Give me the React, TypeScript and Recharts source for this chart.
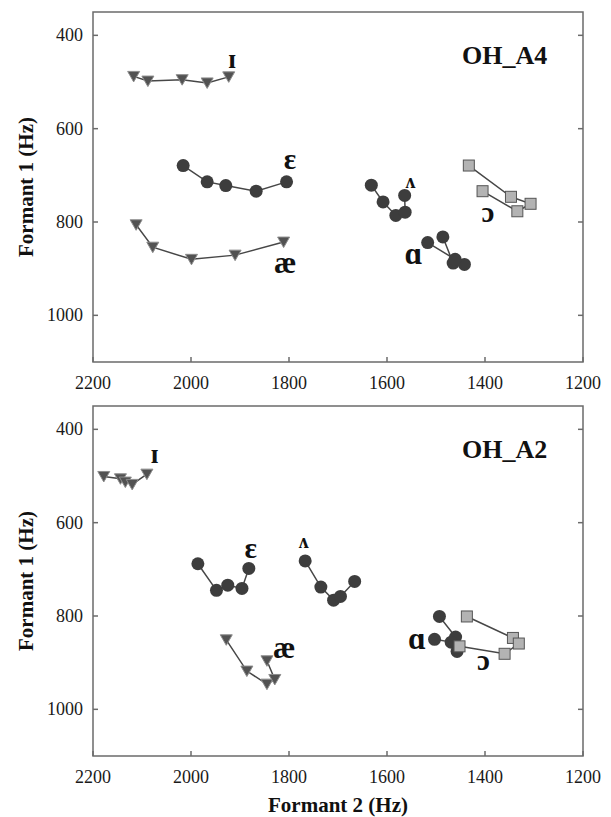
import React from 'react';
import { ScatterChart, Scatter, XAxis, YAxis, ReferenceArea } from 'recharts';

// [F2, F1] in Hz, in time order
const a4I = [[2117, 488], [2088, 498], [2018, 495], [1967, 502], [1923, 489]];
const a4E = [[2016, 679], [1967, 714], [1929, 722], [1867, 734], [1805, 714]];
const a4AE = [[2112, 806], [2078, 854], [1999, 880], [1910, 871], [1811, 843]];
const a4V = [[1632, 721], [1608, 757], [1582, 786], [1563, 779], [1564, 743]];
const a4A = [[1486, 832], [1465, 888], [1442, 891], [1461, 880], [1517, 844]];
const a4O = [[1433, 679], [1347, 746], [1307, 761], [1334, 777], [1405, 734]];

const a2I = [[2178, 501], [2144, 506], [2134, 513], [2120, 518], [2090, 496]];
const a2E = [[1986, 688], [1948, 745], [1925, 734], [1896, 741], [1882, 698]];
const a2AE = [[1928, 851], [1886, 918], [1845, 946], [1829, 936], [1845, 896]];
const a2V = [[1767, 682], [1735, 738], [1709, 766], [1695, 758], [1666, 726]];
const a2A = [[1493, 801], [1460, 845], [1457, 876], [1469, 856], [1503, 850]];
const a2O = [[1437, 801], [1343, 847], [1331, 859], [1360, 881], [1452, 865]];

const vowels = ['ɪ', 'ɛ', 'æ', 'ʌ', 'ɑ', 'ɔ'];
const a4LabelAt = [[1916, 457], [1798, 673], [1808, 895], [1552, 718], [1546, 875], [1394, 786]];
const a2LabelAt = [[2074, 458], [1878, 661], [1810, 874], [1770, 645], [1539, 856], [1403, 902]];

const titles = ['OH_A4', 'OH_A2'];
const titleAt = [1360, 444];

const xTicks = [2200, 2000, 1800, 1600, 1400, 1200];
const yTicks = [400, 600, 800, 1000];

const SERIF = "'Liberation Serif', 'Times New Roman', Times, 'DejaVu Serif', serif";
const AXIS = '#6b6b6b';
const PLOT_W = 490;
const PLOT_H = 350;

const markerOf: Record<string, string> = { 'ɪ': 'tri', 'æ': 'tri', 'ɛ': 'dot', 'ʌ': 'dot', 'ɑ': 'dot', 'ɔ': 'sq' };
const labelSize: Record<string, number> = { 'ɪ': 27, 'ɛ': 29, 'æ': 31, 'ʌ': 20, 'ɑ': 31, 'ɔ': 29 };

const toPts = (arr: number[][]) => arr.map(([f2, f1]) => ({ f2, f1 }));

const serifStyle = (size: number, bold = false) => ({
  fontFamily: SERIF,
  fontSize: size,
  fontWeight: bold ? 700 : 400,
});

const Marker = (kind: string) => (p: any) => {
  const { cx, cy } = p;
  if (cx == null || cy == null) return null;
  if (kind === 'tri') {
    return (
      <polygon
        points={`${cx - 6},${cy - 5} ${cx + 6},${cy - 5} ${cx},${cy + 5.5}`}
        fill="#525252"
        stroke="#8c8c8c"
        strokeWidth={1}
      />
    );
  }
  if (kind === 'sq') {
    return <rect x={cx - 5.5} y={cy - 5.5} width={11} height={11} fill="#b3b3b3" stroke="#555" strokeWidth={1} />;
  }
  return <circle cx={cx} cy={cy} r={6.5} fill="#3d3d3d" />;
};

const LabelShape = (p: any) => {
  const { cx, cy, payload } = p;
  const size = payload.size;
  const lift = payload.caps ? 0.33 : 0.23;
  return (
    <text x={cx} y={cy + size * lift} textAnchor="middle" style={serifStyle(size, true)} fill="#111">
      {payload.text}
    </text>
  );
};

const XTick = (p: any) => (
  <g>
    <line x1={p.x} x2={p.x} y1={p.y} y2={p.y - 5} stroke={AXIS} strokeWidth={1.5} />
    <text x={p.x} y={p.y + 27} textAnchor="middle" style={serifStyle(18)} fill="#1a1a1a">
      {p.payload.value}
    </text>
  </g>
);

const YTick = (p: any) => (
  <g>
    <line x1={p.x + 10} x2={p.x + 15} y1={p.y} y2={p.y} stroke={AXIS} strokeWidth={1.5} />
    <line x1={p.x + 10 + PLOT_W - 5} x2={p.x + 10 + PLOT_W} y1={p.y} y2={p.y} stroke={AXIS} strokeWidth={1.5} />
    <text x={p.x} y={p.y + 6} textAnchor="end" style={serifStyle(18)} fill="#1a1a1a">
      {p.payload.value}
    </text>
  </g>
);

const YTitle = (p: any) => {
  const vb = p.viewBox || {};
  const cy = vb.height ? vb.y + vb.height / 2 : 12 + PLOT_H / 2;
  return (
    <text transform={`translate(33, ${cy}) rotate(-90)`} textAnchor="middle" style={serifStyle(21, true)} fill="#111">
      Formant 1 (Hz)
    </text>
  );
};

const XTitle = (p: any) => {
  const vb = p.viewBox || {};
  const cx = vb.width ? vb.x + vb.width / 2 : 93 + PLOT_W / 2;
  return (
    <text x={cx} y={418} textAnchor="middle" style={serifStyle(21, true)} fill="#111">
      Formant 2 (Hz)
    </text>
  );
};

const Panel = ({ series, labelAt, title, height, showXTitle }: any) => {
  const labels = vowels.map((v, i) => ({ f2: labelAt[i][0], f1: labelAt[i][1], text: v, size: labelSize[v] }));
  const titleData = [{ f2: titleAt[0], f1: titleAt[1], text: title, size: 26, caps: true }];
  return (
    <ScatterChart width={611} height={height} margin={{ top: 12, right: 28, bottom: 0, left: 33 }}>
      <XAxis
        type="number"
        dataKey="f2"
        domain={[1200, 2200]}
        reversed
        allowDataOverflow
        ticks={xTicks}
        interval={0}
        height={height - 12 - PLOT_H}
        axisLine={false}
        tickLine={false}
        tickSize={0}
        tickMargin={0}
        tick={(p: any) => <XTick {...p} />}
        label={showXTitle ? { value: 'Formant 2 (Hz)', content: (p: any) => <XTitle {...p} /> } : undefined}
      />
      <YAxis
        type="number"
        dataKey="f1"
        domain={[350, 1100]}
        reversed
        allowDataOverflow
        ticks={yTicks}
        interval={0}
        width={60}
        axisLine={false}
        tickLine={false}
        tickSize={0}
        tickMargin={10}
        tick={(p: any) => <YTick {...p} />}
        label={{ value: 'Formant 1 (Hz)', content: (p: any) => <YTitle {...p} /> }}
      />
      <ReferenceArea x1={1200} x2={2200} y1={350} y2={1100} fill="none" stroke={AXIS} strokeWidth={1.5} ifOverflow="visible" />
      {series.map((s: number[][], i: number) => (
        <Scatter
          key={vowels[i]}
          data={toPts(s)}
          line={{ stroke: '#474747', strokeWidth: 1.5 }}
          shape={Marker(markerOf[vowels[i]])}
          isAnimationActive={false}
        />
      ))}
      <Scatter data={labels} shape={LabelShape} isAnimationActive={false} />
      <Scatter data={titleData} shape={LabelShape} isAnimationActive={false} />
    </ScatterChart>
  );
};

export default function App() {
  return (
    <div style={{ position: 'relative', width: 611, height: 817 }}>
      <div style={{ position: 'absolute', left: -8, top: -8 }}>
        <Panel series={[a4I, a4E, a4AE, a4V, a4A, a4O]} labelAt={a4LabelAt} title={titles[0]} height={400} showXTitle={false} />
      </div>
      <div style={{ position: 'absolute', left: -8, top: 386 }}>
        <Panel series={[a2I, a2E, a2AE, a2V, a2A, a2O]} labelAt={a2LabelAt} title={titles[1]} height={423} showXTitle />
      </div>
    </div>
  );
}
